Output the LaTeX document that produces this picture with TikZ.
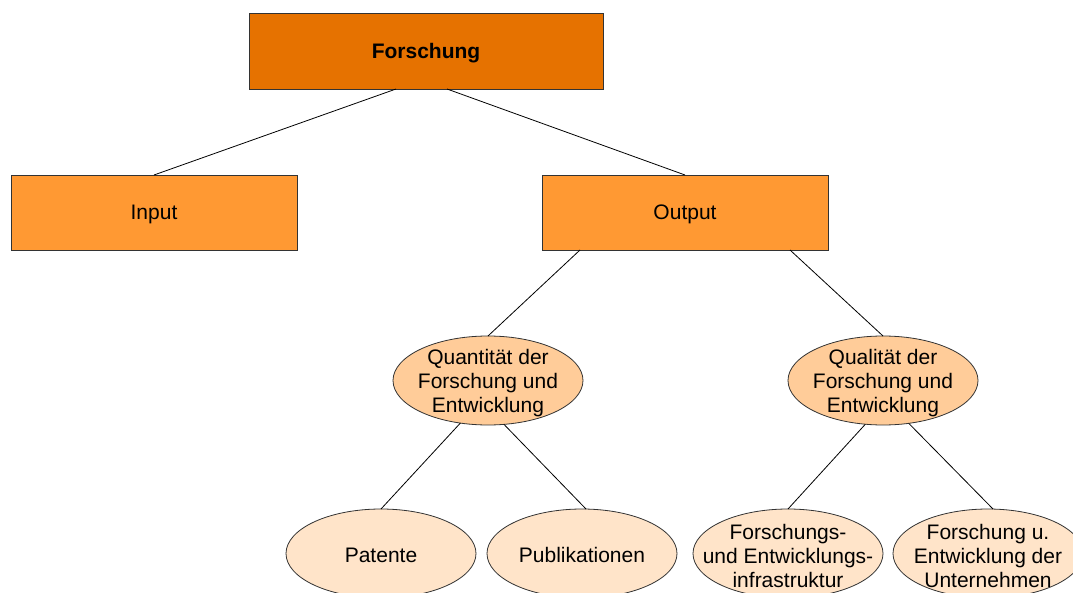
\documentclass[tikz,border=0pt]{standalone}
\usepackage{fontspec}
\setmainfont{Liberation Sans}
\usetikzlibrary{shapes.geometric}
\usetikzlibrary{calc}
\usepackage{xcolor}
\definecolor{topOrange}{RGB}{230,114,0}
\definecolor{boxOrange}{RGB}{255,153,51}
\definecolor{ellOrange}{RGB}{255,204,153}
\definecolor{ellLight}{RGB}{255,228,201}

\begin{document}
\begin{tikzpicture}[x=1pt, y=-1pt]
        % ================= Styles =================
        \tikzset{
            % dark orange top box
            topbox/.style={rectangle, draw=black!80, line width=0.8pt, fill=topOrange, minimum width=354pt, minimum height=76pt, inner sep=0pt, outer sep=0pt, text height=19pt, font=\fontsize{21}{24}\selectfont\bfseries},
            % orange second-level box
            subbox/.style={rectangle, draw=black!80, line width=0.8pt, fill=boxOrange, minimum width=286pt, minimum height=75pt, inner sep=0pt, outer sep=0pt, text height=19pt, font=\fontsize{21}{24}\selectfont},
            % ellipse, third level (three lines of text)
            midell/.style={ellipse, draw=black!80, line width=0.8pt, fill=ellOrange, minimum width=190pt, minimum height=89pt, inner xsep=-30pt, inner ysep=-12pt, outer sep=0pt, text height=69pt, align=center, font=\fontsize{21}{24}\selectfont},
            % light ellipse, bottom level
            lowell/.style={midell, fill=ellLight},
            % single line in an ellipse
            oneline/.style={text height=19pt},
            % plain black connector
            link/.style={line width=0.8pt, black}
        }

        \useasboundingbox (0,0) rectangle (1073,593);
        \clip (0,0) rectangle (1073,593);

        % ================= Positions =================
        \coordinate (forsch_p) at (426,51);
        \coordinate (input_p)  at (154,212.5);
        \coordinate (output_p) at (685,212.5);
        \coordinate (quant_p)  at (488,380.5);
        \coordinate (qual_p)   at (883,380.5);
        \coordinate (pat_p)    at (381,553.5);
        \coordinate (pub_p)    at (582,553.5);
        \coordinate (infra_p)  at (788,553.5);
        \coordinate (unt_p)    at (988,553.5);

        % ================= Nodes =================
        \node[topbox] (forsch) at (forsch_p) {Forschung};
        \node[subbox] (input)  at (input_p)  {Input};
        \node[subbox] (output) at (output_p) {Output};

        \node[midell] (quant) at (quant_p) {Quantität der\\Forschung und\\Entwicklung};
        \node[midell] (qual)  at (qual_p)  {Qualität der\\Forschung und\\Entwicklung};

        \node[lowell, oneline] (pat) at (pat_p) {Patente};
        \node[lowell, oneline] (pub) at (pub_p) {Publikationen};
        \node[lowell] (infra) at (infra_p) {Forschungs-\\und Entwicklungs-\\infrastruktur};
        \node[lowell] (unt)   at (unt_p)   {Forschung u.\\Entwicklung der\\Unternehmen};

        % ================= Connectors =================
        \draw[link] ($(forsch.south)+(-30,0)$) -- (input.north);
        \draw[link] ($(forsch.south)+(21,0)$) -- (output.north);

        \draw[link] ($(output.south)+(-105,0)$) -- (quant.north);
        \draw[link] ($(output.south)+(105,0)$) -- (qual.north);

        \draw[link] (quant.237) -- (pat.north);
        \draw[link] (quant.290) -- ($(pub.north)+(4,0)$);
        \draw[link] (qual.248) -- (infra.north);
        \draw[link] (qual.301) -- ($(unt.north)+(5,0)$);

    \end{tikzpicture}
\end{document}
